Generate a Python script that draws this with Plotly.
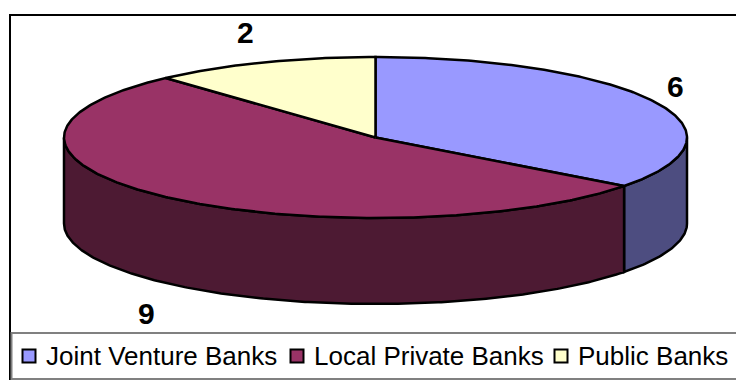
import math
import plotly.graph_objects as go

categories = ["Joint Venture Banks", "Local Private Banks", "Public Banks"]
values = [6, 9, 2]
top_colors = ["#9999FF", "#993366", "#FFFFCC"]
side_colors = ["#4D4D80", "#4D1A33", "#808066"]

W, H = 736, 380
CX, CY, RX, RY, DEPTH = 375.5, 137.5, 311.5, 80.5, 86
LABEL_X = [675, 146, 245]
LABEL_Y = [86, 313, 32]
LEGEND_SWATCH_X = [29, 297, 561]
LEGEND_TEXT_X = [44, 312, 576]
LEGEND_Y = 356


def px(t):
    return CX + RX * math.sin(t)


def py(t, drop=0):
    return CY - RY * math.cos(t) + drop


def arc(a, b):
    n = max(2, int(abs(b - a) / 0.01))
    return [a + (b - a) * i / n for i in range(n + 1)]


total = sum(values)
edges = [0.0]
for v in values:
    edges.append(edges[-1] + v / total * 2 * math.pi)

fig = go.Figure()
line = dict(color="black", width=2.5)

# Front wall of the disc: only the part with the lower half of the ellipse shows.
for i in range(len(values)):
    a, b = max(edges[i], math.pi / 2), min(edges[i + 1], 3 * math.pi / 2)
    if a >= b:
        continue
    ts = arc(a, b)
    xs = [px(t) for t in ts] + [px(t) for t in reversed(ts)] + [px(ts[0])]
    ys = [py(t) for t in ts] + [py(t, DEPTH) for t in reversed(ts)] + [py(ts[0])]
    fig.add_trace(go.Scatter(x=xs, y=ys, mode="lines", fill="toself", fillcolor=side_colors[i],
                             line=line, showlegend=False, hoverinfo="skip"))

# Top face slices.
for i in range(len(values)):
    ts = arc(edges[i], edges[i + 1])
    xs = [CX] + [px(t) for t in ts] + [CX]
    ys = [CY] + [py(t) for t in ts] + [CY]
    fig.add_trace(go.Scatter(x=xs, y=ys, mode="lines", fill="toself", fillcolor=top_colors[i],
                             line=line, name=categories[i], showlegend=False, hoverinfo="name"))

# Legend row inside its box: one swatch and one label per category.
fig.add_trace(go.Scatter(x=LEGEND_SWATCH_X, y=[LEGEND_Y] * len(categories), mode="markers",
                         marker=dict(symbol="square", size=13, color=top_colors,
                                     line=dict(color="black", width=2)),
                         showlegend=False, hoverinfo="skip"))
for name, tx in zip(categories, LEGEND_TEXT_X):
    fig.add_annotation(x=tx, y=LEGEND_Y, text=name, showarrow=False, xanchor="left",
                       font=dict(family="Liberation Sans", size=26, color="black"))

# Value labels.
for v, lx, ly in zip(values, LABEL_X, LABEL_Y):
    fig.add_annotation(x=lx, y=ly, text=f"<b>{v}</b>", showarrow=False,
                       font=dict(family="Liberation Sans", size=30, color="black"))

fig.update_layout(
    width=W, height=H, margin=dict(l=0, r=0, t=0, b=0),
    paper_bgcolor="white", plot_bgcolor="white",
    showlegend=False,
    xaxis=dict(range=[0, W], visible=False, fixedrange=True),
    yaxis=dict(range=[H, 0], visible=False, fixedrange=True),
    font=dict(family="Liberation Sans", color="black"),
    shapes=[
        dict(type="rect", xref="x", yref="y", x0=10, y0=15, x1=740, y1=379,
             line=dict(color="black", width=2), fillcolor="rgba(0,0,0,0)", layer="below"),
        dict(type="rect", xref="x", yref="y", x0=11.5, y0=333, x1=740, y1=379,
             line=dict(color="#808080", width=2), fillcolor="white", layer="below"),
    ],
)
fig.write_html("out.html", config={"displayModeBar": False},
               post_script="document.body.style.margin='0';document.body.style.overflow='hidden';")
